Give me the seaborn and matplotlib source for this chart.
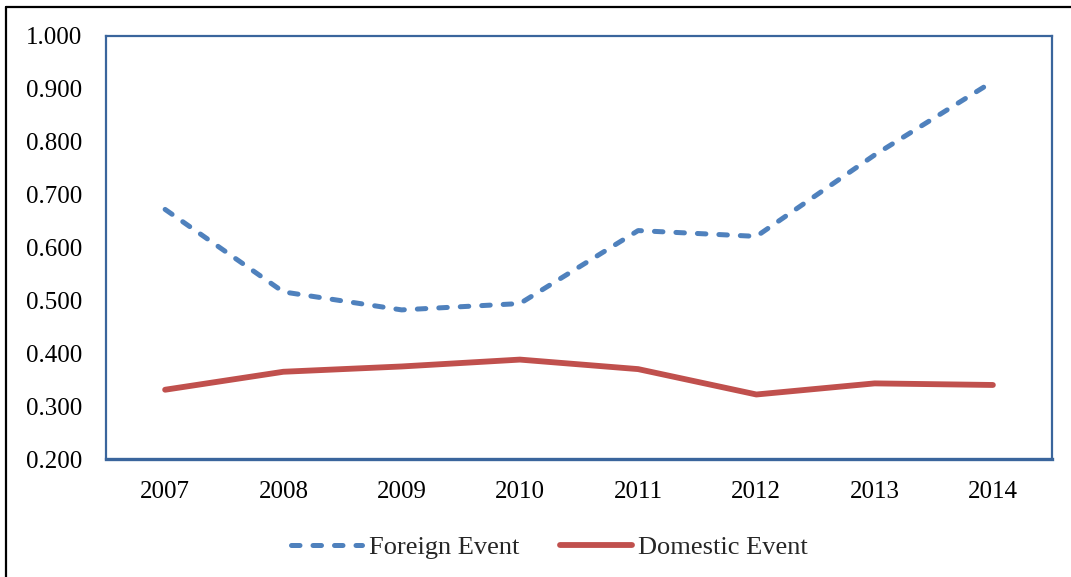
import matplotlib
matplotlib.use("Agg")
import matplotlib.pyplot as plt
import seaborn as sns
import pandas as pd
from matplotlib.lines import Line2D
from matplotlib.ticker import FormatStrFormatter

years = ["2007", "2008", "2009", "2010", "2011", "2012", "2013", "2014"]
foreign = [0.672, 0.516, 0.482, 0.494, 0.632, 0.621, 0.775, 0.914]
domestic = [0.331, 0.365, 0.375, 0.388, 0.370, 0.322, 0.343, 0.340]
series_names = ["Foreign Event", "Domestic Event"]
y_ticks = [0.2, 0.3, 0.4, 0.5, 0.6, 0.7, 0.8, 0.9, 1.0]

sns.set_theme(style="white")
plt.rcParams["font.family"] = ["Liberation Serif", "DejaVu Serif"]

df = pd.DataFrame({
    "year": years * 2,
    "pos": list(range(len(years))) * 2,
    "value": foreign + domestic,
    "series": [series_names[0]] * len(years) + [series_names[1]] * len(years),
})

blue = "#4F81BD"
red = "#C0504D"
spine_col = "#3A659C"
dash_pat = (1.7, 2.6)

fig = plt.figure(figsize=(10.71, 5.77), dpi=100)
ax = fig.add_axes([106 / 1071, 1 - 459 / 577, (1052 - 106) / 1071, (459 - 36) / 577])

sns.lineplot(data=df, x="pos", y="value", hue="series", style="series",
             palette={series_names[0]: blue, series_names[1]: red},
             dashes={series_names[0]: dash_pat, series_names[1]: ""},
             ax=ax, legend=False, sort=False)

lws = {0: 3.6, 1: 4.2}
for i, ln in enumerate(ax.get_lines()):
    ln.set_linewidth(lws.get(i, 3.6))
    if i == 0:
        ln.set_dashes(dash_pat)
    ln.set_dash_capstyle("round")
    ln.set_solid_capstyle("round")
    ln.set_solid_joinstyle("round")

ax.set_xlim(-0.5, len(years) - 0.5)
ax.set_ylim(0.2, 1.0)
ax.set_yticks(y_ticks)
ax.yaxis.set_major_formatter(FormatStrFormatter("%.3f"))
ax.set_xticks(range(len(years)))
ax.set_xticklabels(years)
ax.set_xlabel("")
ax.set_ylabel("")
ax.tick_params(axis="both", length=0, labelsize=18, colors="black")
ax.tick_params(axis="y", pad=17)
ax.tick_params(axis="x", pad=16)
ax.grid(False)
for side, sp in ax.spines.items():
    sp.set_visible(True)
    sp.set_color(spine_col)
    sp.set_linewidth(1.6)
ax.spines["bottom"].set_linewidth(2.4)

handles = [
    Line2D([], [], color=blue, lw=3.6, linestyle=(0, dash_pat), dash_capstyle="round"),
    Line2D([], [], color=red, lw=4.2, solid_capstyle="round"),
]
fig.legend(handles, series_names, loc="center", bbox_to_anchor=(0.5 + 14 / 1071, 1 - 547 / 577),
           ncol=2, frameon=False, fontsize=19, handlelength=2.7, handletextpad=0.25,
           columnspacing=1.55)

# outer chart border (left and top visible)
fig.add_artist(Line2D([5.5 / 1071, 5.5 / 1071], [0, 1 - 6.5 / 577], transform=fig.transFigure,
                      color="black", lw=1.6))
fig.add_artist(Line2D([5.5 / 1071, 1], [1 - 6.5 / 577, 1 - 6.5 / 577], transform=fig.transFigure,
                      color="black", lw=1.6))

fig.savefig("out.png", dpi=100, facecolor="white")
